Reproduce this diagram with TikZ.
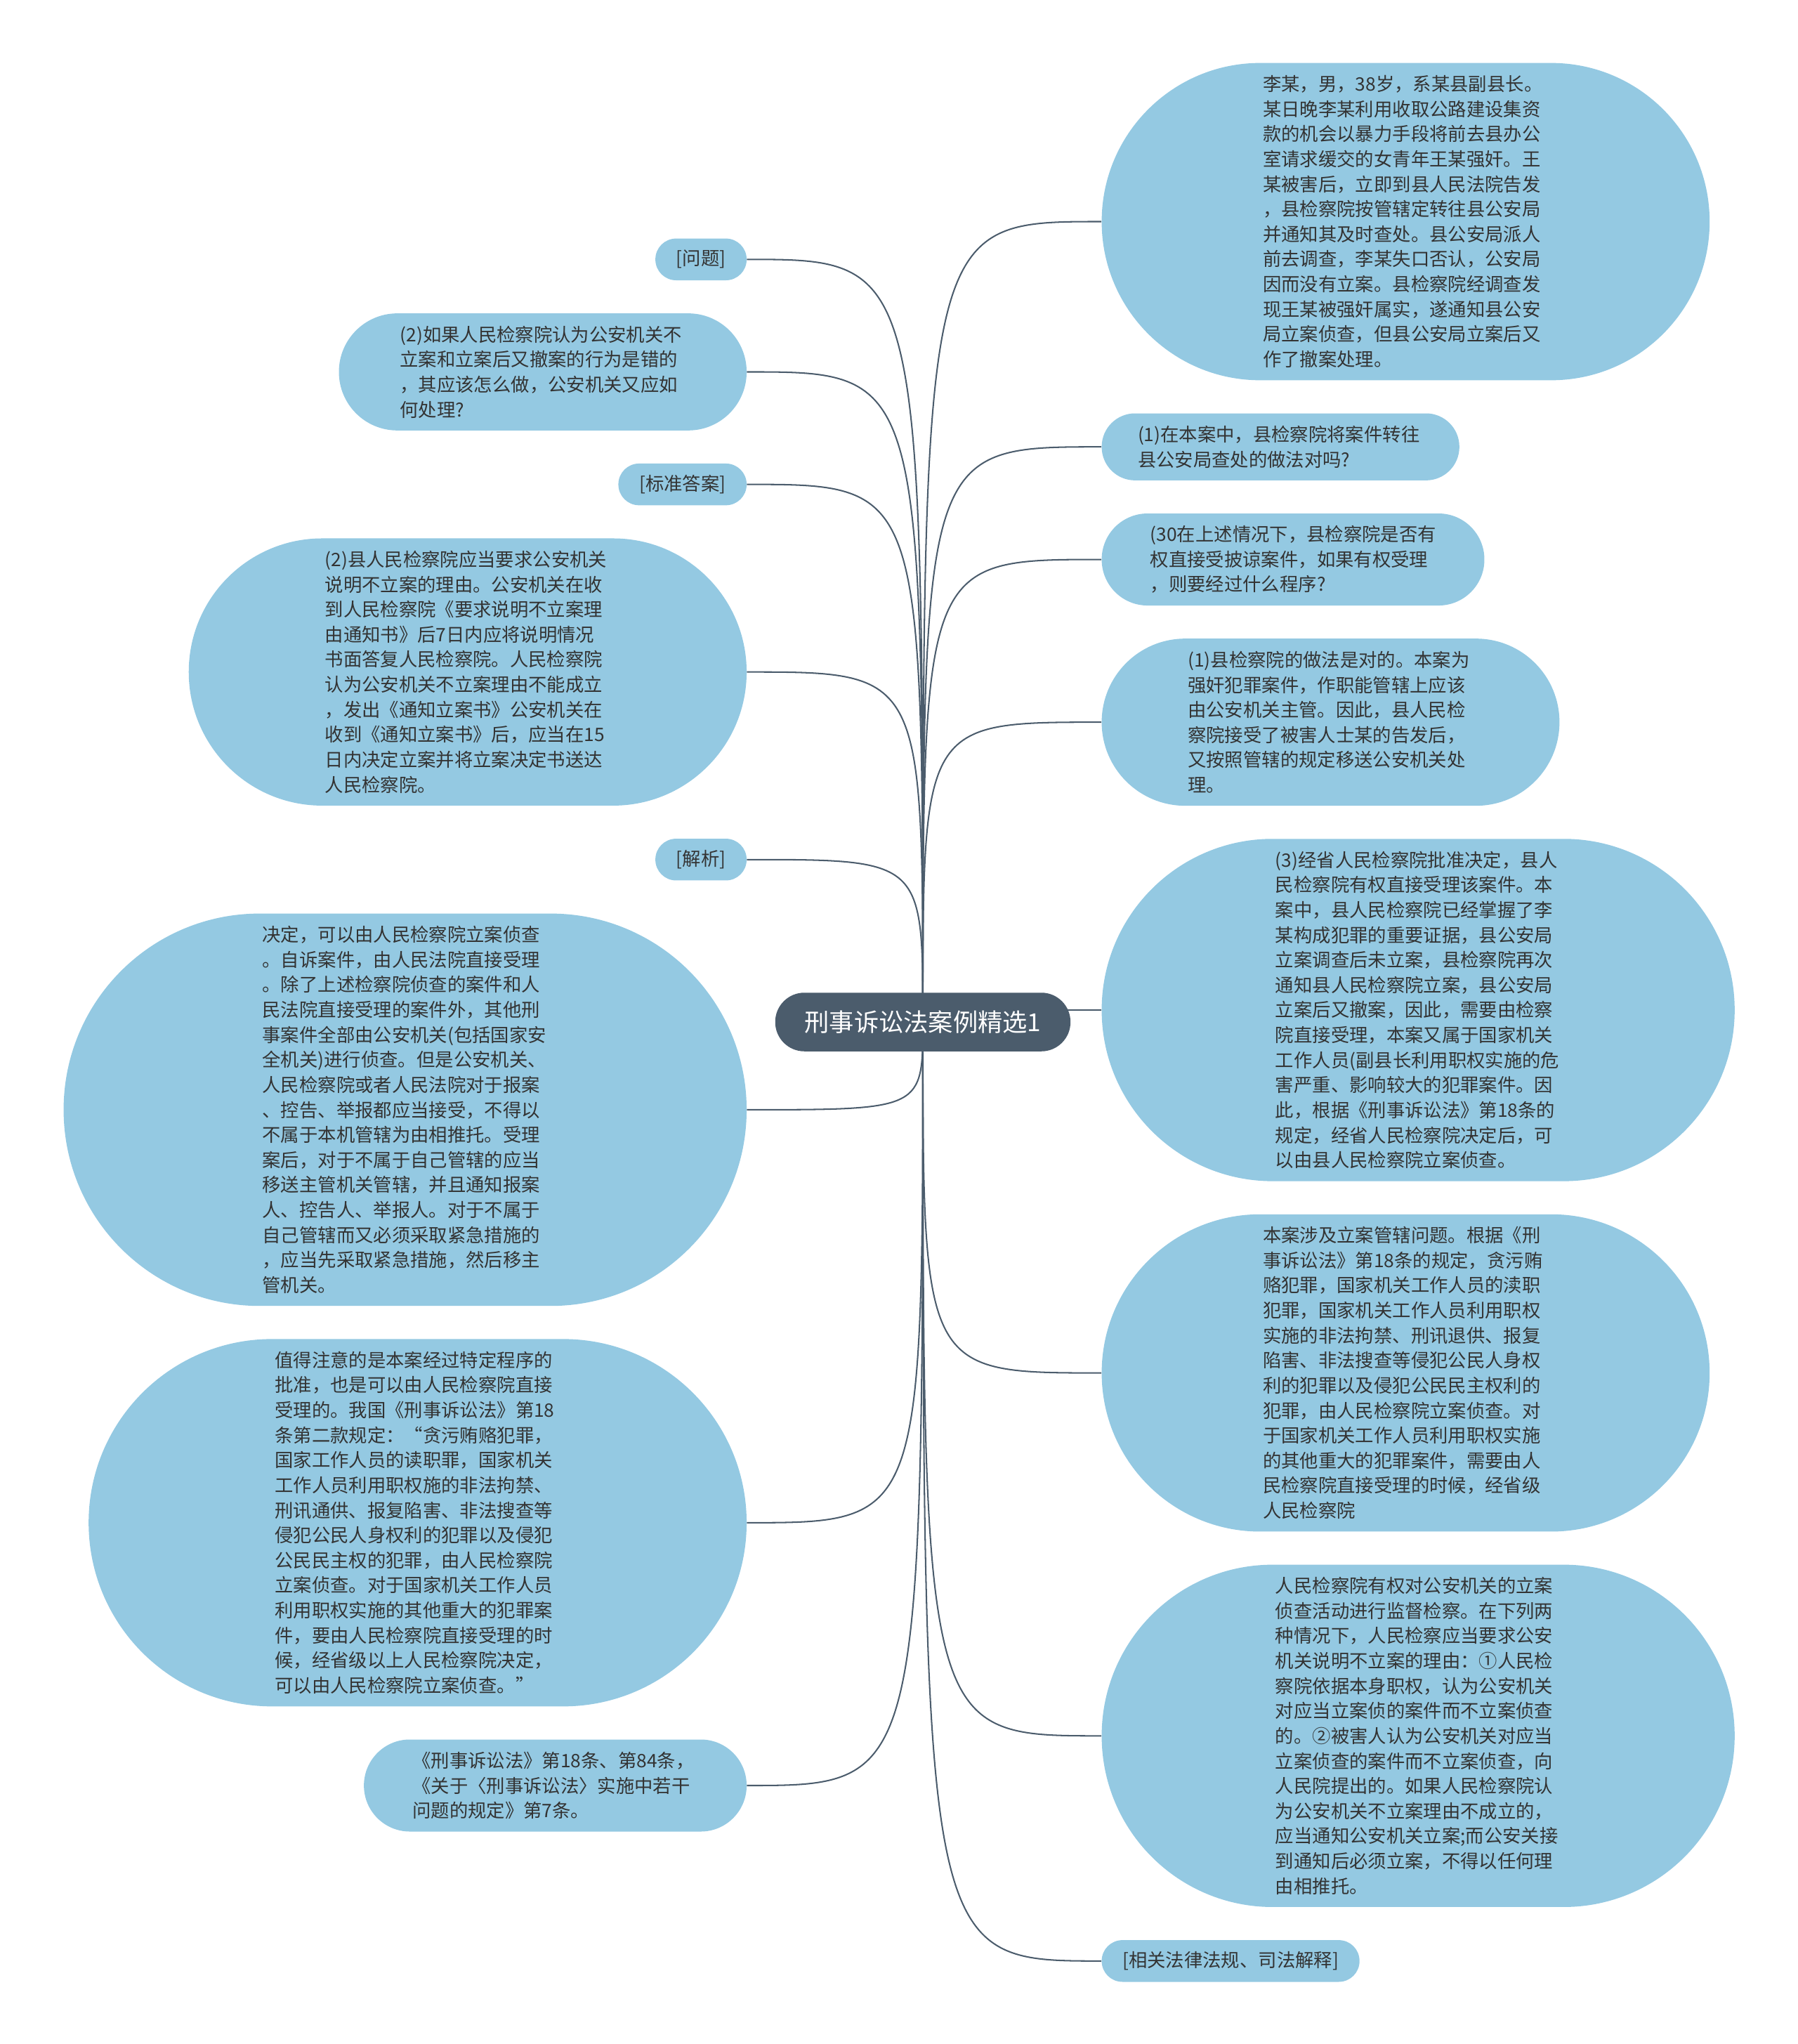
\documentclass[tikz,border=0pt]{standalone}
\usepackage{fontspec}
\newfontfamily\cjk{Noto Sans CJK SC}
\usetikzlibrary{positioning,backgrounds}
\definecolor{topicgray}{HTML}{4B5C6C}
\definecolor{leafblue}{HTML}{94C9E2}
\definecolor{inkdark}{HTML}{333333}
\tikzset{
  topic/.style={fill=topicgray, text=white, font=\cjk\fontsize{19}{22}\selectfont, minimum height=45pt, inner xsep=22.5pt, rounded corners=22.4pt},
  leaf/.style={fill=leafblue, text=inkdark, font=\cjk\fontsize{14.2}{19.2}\selectfont, text width=219pt, align=left, inner ysep=3pt},
  tag/.style={fill=leafblue, text=inkdark, font=\cjk\fontsize{14.2}{19.2}\selectfont, minimum height=32pt, inner xsep=16pt, rounded corners=15.9pt},
  nlines/.code={%
    \pgfmathsetlengthmacro\leafh{#1*19.2pt+13pt}%
    \pgfmathsetlengthmacro\leafr{#1*9.6pt+6.4pt}%
    \pgfmathsetlengthmacro\leafx{#1*9.6pt+8.5pt}%
    \tikzset{minimum height=\leafh, rounded corners=\leafr, inner xsep=\leafx}},
  link/.style={draw=topicgray, line width=1.1pt}
}

\begin{document}
\begin{tikzpicture}[x=1pt, y=-1pt]
  \useasboundingbox (0,0) rectangle (1379,1568);
  \node[topic] (root) at (708,784) {刑事诉讼法案例精选1};

  % right side
  \node[leaf, nlines=12, anchor=west] (r1) at (845,170) {李某，男，38岁，系某县副县长。\\某日晚李某利用收取公路建设集资\\款的机会以暴力手段将前去县办公\\室请求缓交的女青年王某强奸。王\\某被害后，立即到县人民法院告发\\，县检察院按管辖定转往县公安局\\并通知其及时查处。县公安局派人\\前去调查，李某失口否认，公安局\\因而没有立案。县检察院经调查发\\现王某被强奸属实，遂通知县公安\\局立案侦查，但县公安局立案后又\\作了撤案处理。};
  \node[leaf, nlines=2, below=25pt of r1.south west, anchor=north west] (r2) {(1)在本案中，县检察院将案件转往\\县公安局查处的做法对吗?};
  \node[leaf, nlines=3, below=25pt of r2.south west, anchor=north west] (r3) {(30在上述情况下，县检察院是否有\\权直接受披谅案件，如果有权受理\\，则要经过什么程序?};
  \node[leaf, nlines=6, below=25pt of r3.south west, anchor=north west] (r4) {(1)县检察院的做法是对的。本案为\\强奸犯罪案件，作职能管辖上应该\\由公安机关主管。因此，县人民检\\察院接受了被害人士某的告发后，\\又按照管辖的规定移送公安机关处\\理。};
  \node[leaf, nlines=13, below=25pt of r4.south west, anchor=north west] (r5) {(3)经省人民检察院批准决定，县人\\民检察院有权直接受理该案件。本\\案中，县人民检察院已经掌握了李\\某构成犯罪的重要证据，县公安局\\立案调查后未立案，县检察院再次\\通知县人民检察院立案，县公安局\\立案后又撤案，因此，需要由检察\\院直接受理，本案又属于国家机关\\工作人员(副县长利用职权实施的危\\害严重、影响较大的犯罪案件。因\\此，根据《刑事诉讼法》第18条的\\规定，经省人民检察院决定后，可\\以由县人民检察院立案侦查。};
  \node[leaf, nlines=12, below=25pt of r5.south west, anchor=north west] (r6) {本案涉及立案管辖问题。根据《刑\\事诉讼法》第18条的规定，贪污贿\\赂犯罪，国家机关工作人员的渎职\\犯罪，国家机关工作人员利用职权\\实施的非法拘禁、刑讯退供、报复\\陷害、非法搜查等侵犯公民人身权\\利的犯罪以及侵犯公民民主权利的\\犯罪，由人民检察院立案侦查。对\\于国家机关工作人员利用职权实施\\的其他重大的犯罪案件，需要由人\\民检察院直接受理的时候，经省级\\人民检察院};
  \node[leaf, nlines=13, below=25pt of r6.south west, anchor=north west] (r7) {人民检察院有权对公安机关的立案\\侦查活动进行监督检察。在下列两\\种情况下，人民检察应当要求公安\\机关说明不立案的理由：①人民检\\察院依据本身职权，认为公安机关\\对应当立案侦的案件而不立案侦查\\的。②被害人认为公安机关对应当\\立案侦查的案件而不立案侦查，向\\人民院提出的。如果人民检察院认\\为公安机关不立案理由不成立的，\\应当通知公安机关立案;而公安关接\\到通知后必须立案，不得以任何理\\由相推托。};
  \node[tag, below=25pt of r7.south west, anchor=north west] (r8) {[相关法律法规、司法解释]};

  % left side
  \node[tag, anchor=east] (l1) at (573,199) {[问题]};
  \node[leaf, nlines=4, below=25pt of l1.south east, anchor=north east] (l2) {(2)如果人民检察院认为公安机关不\\立案和立案后又撤案的行为是错的\\，其应该怎么做，公安机关又应如\\何处理?};
  \node[tag, below=25pt of l2.south east, anchor=north east] (l3) {[标准答案]};
  \node[leaf, nlines=10, below=25pt of l3.south east, anchor=north east] (l4) {(2)县人民检察院应当要求公安机关\\说明不立案的理由。公安机关在收\\到人民检察院《要求说明不立案理\\由通知书》后7日内应将说明情况\\书面答复人民检察院。人民检察院\\认为公安机关不立案理由不能成立\\，发出《通知立案书》公安机关在\\收到《通知立案书》后，应当在15\\日内决定立案并将立案决定书送达\\人民检察院。};
  \node[tag, below=25pt of l4.south east, anchor=north east] (l5) {[解析]};
  \node[leaf, nlines=15, below=25pt of l5.south east, anchor=north east] (l6) {决定，可以由人民检察院立案侦查\\。自诉案件，由人民法院直接受理\\。除了上述检察院侦查的案件和人\\民法院直接受理的案件外，其他刑\\事案件全部由公安机关(包括国家安\\全机关)进行侦查。但是公安机关、\\人民检察院或者人民法院对于报案\\、控告、举报都应当接受，不得以\\不属于本机管辖为由相推托。受理\\案后，对于不属于自己管辖的应当\\移送主管机关管辖，并且通知报案\\人、控告人、举报人。对于不属于\\自己管辖而又必须采取紧急措施的\\，应当先采取紧急措施，然后移主\\管机关。};
  \node[leaf, nlines=14, below=25pt of l6.south east, anchor=north east] (l7) {值得注意的是本案经过特定程序的\\批准，也是可以由人民检察院直接\\受理的。我国《刑事诉讼法》第18\\条第二款规定：“贪污贿赂犯罪，\\国家工作人员的读职罪，国家机关\\工作人员利用职权施的非法拘禁、\\刑讯通供、报复陷害、非法搜查等\\侵犯公民人身权利的犯罪以及侵犯\\公民民主权的犯罪，由人民检察院\\立案侦查。对于国家机关工作人员\\利用职权实施的其他重大的犯罪案\\件，要由人民检察院直接受理的时\\候，经省级以上人民检察院决定，\\可以由人民检察院立案侦查。”};
  \node[leaf, nlines=3, below=25pt of l7.south east, anchor=north east] (l8) {《刑事诉讼法》第18条、第84条，\\《关于〈刑事诉讼法〉实施中若干\\问题的规定》第7条。};

  \begin{scope}[on background layer]
    \draw[link] (root.center) .. controls (root.center |- r1.west) .. (r1.west);
    \draw[link] (root.center) .. controls (root.center |- r2.west) .. (r2.west);
    \draw[link] (root.center) .. controls (root.center |- r3.west) .. (r3.west);
    \draw[link] (root.center) .. controls (root.center |- r4.west) .. (r4.west);
    \draw[link] (root.center) .. controls (root.center |- r5.west) .. (r5.west);
    \draw[link] (root.center) .. controls (root.center |- r6.west) .. (r6.west);
    \draw[link] (root.center) .. controls (root.center |- r7.west) .. (r7.west);
    \draw[link] (root.center) .. controls (root.center |- r8.west) .. (r8.west);
    \draw[link] (root.center) .. controls (root.center |- l1.east) .. (l1.east);
    \draw[link] (root.center) .. controls (root.center |- l2.east) .. (l2.east);
    \draw[link] (root.center) .. controls (root.center |- l3.east) .. (l3.east);
    \draw[link] (root.center) .. controls (root.center |- l4.east) .. (l4.east);
    \draw[link] (root.center) .. controls (root.center |- l5.east) .. (l5.east);
    \draw[link] (root.center) .. controls (root.center |- l6.east) .. (l6.east);
    \draw[link] (root.center) .. controls (root.center |- l7.east) .. (l7.east);
    \draw[link] (root.center) .. controls (root.center |- l8.east) .. (l8.east);
  \end{scope}
\end{tikzpicture}
\end{document}
